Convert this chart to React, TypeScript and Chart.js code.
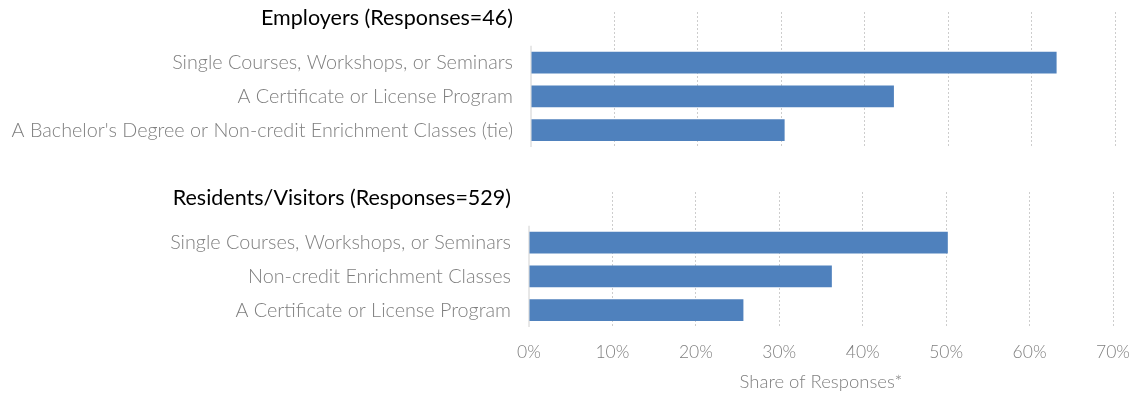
import React, { useEffect, useRef } from "react";
import { Chart, registerables } from "chart.js";

Chart.register(...registerables);

const employerHeading = "Employers (Responses=46)";
const employerCategories = [
  "Single Courses, Workshops, or Seminars",
  "A Certificate or License Program",
  "A Bachelor's Degree or Non-credit Enrichment Classes (tie)",
];
const employerValues = [63.0, 43.5, 30.4];

const residentHeading = "Residents/Visitors (Responses=529)";
const residentCategories = [
  "Single Courses, Workshops, or Seminars",
  "Non-credit Enrichment Classes",
  "A Certificate or License Program",
];
const residentValues = [50.2, 36.3, 25.7];

const xMin = 0;
const xMax = 70;
const xStep = 10;
const xTitle = "Share of Responses*";

const BAR_COLOR = "#4F81BD";
const LABEL_COLOR = "#7f7f7f";
const GRID_COLOR = "#cdcdcd";
const FONT = "Lato, 'Open Sans', sans-serif";

const axisLinePlugin = {
  id: "axisLine",
  beforeDatasetsDraw(chart: any) {
    const x = chart.scales.x;
    const y = chart.scales.y;
    const ctx = chart.ctx;
    const px = x.getPixelForValue(0);
    const half = (y.getPixelForTick(2) - y.getPixelForTick(1)) / 2;
    const top = y.getPixelForTick(1) - half;
    ctx.save();
    ctx.strokeStyle = "#d0d0d0";
    ctx.lineWidth = 1;
    ctx.beginPath();
    ctx.moveTo(px, top);
    ctx.lineTo(px, chart.chartArea.bottom);
    ctx.stroke();
    ctx.restore();
  },
};

function buildConfig(
  heading: string,
  cats: string[],
  vals: number[],
  axisWidth: number,
  padRight: number,
  showX: boolean
): any {
  const labels: any[] = [[heading, ""], ...cats];
  const data: (number | null)[] = [null, ...vals];
  return {
    type: "bar",
    data: {
      labels,
      datasets: [
        {
          data,
          backgroundColor: BAR_COLOR,
          borderWidth: 0,
          barPercentage: 0.64,
          categoryPercentage: 1,
        },
      ],
    },
    plugins: [axisLinePlugin],
    options: {
      indexAxis: "y",
      animation: false,
      responsive: false,
      devicePixelRatio: 1,
      layout: {
        padding: { top: 12, right: padRight, left: 0, bottom: showX ? 7 : 3 },
      },
      plugins: {
        legend: { display: false },
        tooltip: { enabled: false },
        title: { display: false },
      },
      scales: {
        x: {
          min: xMin,
          max: xMax,
          border: { display: false, dash: [2, 2] },
          grid: {
            drawTicks: false,
            lineWidth: 1,
            color: (c: any) =>
              c.tick && c.tick.value === 0 ? "rgba(0,0,0,0)" : GRID_COLOR,
          },
          ticks: {
            display: showX,
            stepSize: xStep,
            padding: 15,
            color: LABEL_COLOR,
            font: { family: FONT, size: 17.5, weight: "300" },
            callback: (v: any) => v + "%",
          },
          title: {
            display: showX,
            text: xTitle,
            color: LABEL_COLOR,
            padding: { top: 0, bottom: 0 },
            font: { family: FONT, size: 18.5, weight: "300" },
          },
          afterFit: (s: any) => {
            s.height = showX ? 66 : 0;
            s.paddingLeft = 0;
            s.paddingRight = 0;
          },
        },
        y: {
          border: { display: false },
          grid: { display: false, drawTicks: false },
          ticks: {
            padding: 18,
            autoSkip: false,
            color: (c: any) => (c.index === 0 ? "#000000" : LABEL_COLOR),
            font: (c: any) =>
              c.index === 0
                ? { family: FONT, size: 21.5, weight: "400", lineHeight: "22px" }
                : { family: FONT, size: 19.8, weight: "300" },
          },
          afterFit: (s: any) => {
            s.width = axisWidth;
            s.paddingTop = 0;
            s.paddingBottom = 0;
          },
        },
      },
    },
  };
}

export default function App() {
  const topRef = useRef<HTMLCanvasElement>(null);
  const botRef = useRef<HTMLCanvasElement>(null);

  useEffect(() => {
    const c1 = new Chart(
      topRef.current as HTMLCanvasElement,
      buildConfig(employerHeading, employerCategories, employerValues, 531, 23, false)
    );
    const c2 = new Chart(
      botRef.current as HTMLCanvasElement,
      buildConfig(residentHeading, residentCategories, residentValues, 529, 25, true)
    );
    return () => {
      c1.destroy();
      c2.destroy();
    };
  }, []);

  return (
    <div
      style={{
        position: "absolute",
        left: 0,
        top: 0,
        width: 1138,
        height: 400,
        background: "#ffffff",
      }}
    >
      <canvas
        ref={topRef}
        width={1138}
        height={150}
        style={{ position: "absolute", left: 0, top: 0, width: 1138, height: 150 }}
      />
      <canvas
        ref={botRef}
        width={1138}
        height={220}
        style={{ position: "absolute", left: 0, top: 180, width: 1138, height: 220 }}
      />
    </div>
  );
}
